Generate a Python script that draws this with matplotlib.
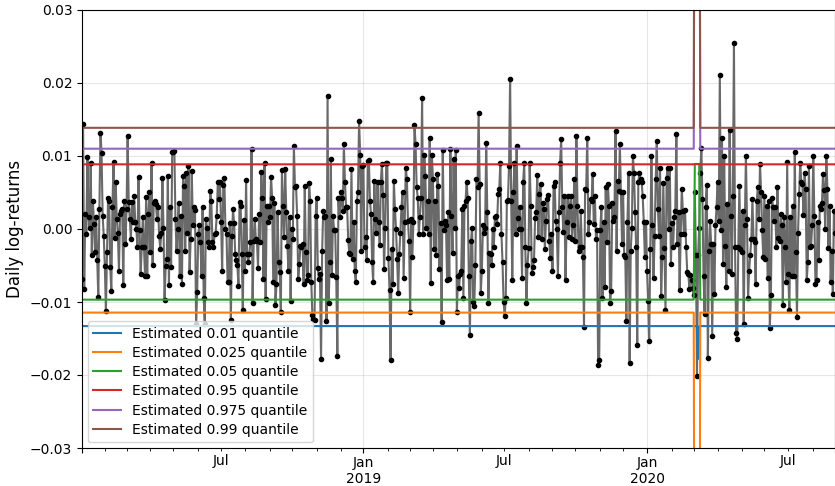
import numpy as np
import pandas as pd
import matplotlib
matplotlib.use("Agg")
from matplotlib import pyplot as plt

# daily log-returns, in units of 1e-3, one list per ~quarter
ret_2018q1 = [-6.8, 14.4, -8.2, 2.0, -0.7, 9.9, 1.6, 0.2, 9.1, -3.5,
              3.9, 0.7, -3.2, 1.6, -4.2, -9.3, 2.7, 13.2, 10.4, 1.8,
              -0.9, -5.1, -11.2, -3.1, 4.3, 3.9, -5.2, -8.5, 3.0, 9.2,
              -1.3, 6.4, 1.4, -0.5, -5.8, 2.0, 2.5, 2.7, -7.7, 3.9,
              -2.0, 2.7, 12.7, 3.7, 1.4, -1.4, 3.7, 0.9, 4.5, 1.0,
              0.0, -2.4, 7.1, -0.2, -6.1, -2.5, 1.7, -2.4, -6.4, 4.4,
              -6.5, 2.0, 5.1, -3.2]
ret_2018q2 = [9.1, -5.0, 3.6, 3.9, 3.4, 1.4, 3.0, -0.9, -2.7, -0.5,
              7.0, 0.2, -9.7, -5.1, -4.1, 7.3, -7.7, 3.0, -5.2, 10.5,
              10.5, 10.7, 1.4, -3.0, 0.0, 3.6, -6.4, 1.8, -7.5, 7.3,
              5.9, -3.0, 7.7, -0.5, 8.6, -5.9, -1.4, 8.0, 0.5, 3.0,
              2.6, -13.0, -8.6, -0.7, 0.5, -1.8, -6.4, 3.0, -9.5, -13.0,
              1.4, 0.2, -1.8, -2.5, 5.2, 3.9, -1.8, -2.5, -0.7, -0.5,
              1.8, 6.4, 4.1]
ret_2018q3 = [6.4, 0.9, -5.7, 6.0, 7.0, 0.0, -0.7, -7.3, -7.2, 0.8,
              -12.5, -1.0, 2.7, 0.8, -3.4, -4.3, -5.0, -7.8, 3.7, 3.1,
              -3.4, -11.1, 1.3, -5.8, 6.7, -3.4, -4.5, -3.4, -1.8, 10.9,
              -10.1, -1.7, 1.4, -1.4, -1.6, -5.3, 2.0, -1.8, 7.8, 4.2,
              -6.8, 9.0, -9.6, 3.1, 1.0, 3.2, 1.6, 7.1, 4.2, -7.2,
              3.6, -10.4, -7.6, 2.3, -4.5, -5.9, -11.4, 8.1, 3.2, -1.1,
              8.2, 2.3, -2.3]
ret_2018q4 = [-5.7, 1.6, -9.8, 0.0, -1.4, 11.4, 5.7, 5.9, 1.8, -6.8,
              -4.8, -2.3, -2.5, -2.0, -7.5, 5.9, -3.2, -7.0, -6.3, 6.3,
              3.9, -7.2, -11.8, -12.3, -12.5, 1.8, 4.3, -5.4, -6.8, -6.1,
              -17.8, -3.0, 2.5, 1.6, 1.8, -12.6, 18.2, -10.2, -4.5, 9.6,
              -6.3, 1.8, -0.2, -0.1, -6.6, -17.4, 4.3, 1.6, 5.0, 4.2,
              2.5, 11.6, 6.5, 3.0, 3.0, -1.5, -3.3, -3.4, 8.2, -4.1,
              0.9, -5.7, -7.3, 3.9]
ret_2019q1 = [5.0, 14.8, 10.2, -3.0, 8.6, 8.7, -2.5, -1.1, -4.2, 9.3,
              9.5, 3.9, 2.1, -4.5, -7.3, 6.6, 1.4, -0.5, 6.5, 1.0,
              -2.2, 6.5, 8.9, 4.6, -5.5, 0.2, 9.0, 9.1, -4.0, -8.4,
              -18.0, -2.8, -7.5, 6.6, 2.8, 0.0, -4.1, -8.7, -3.4, -0.5,
              3.0, 5.0, -6.7, 0.9, 8.4, 6.8, 1.1, -1.6, -11.4, 1.4,
              -3.9, 1.0, 14.3, 11.6, 5.7, 4.3, -0.7, 1.7, 4.3, 18.0,
              -0.7, 10.2, 7.3]
ret_2019q2 = [0.2, 3.9, -0.7, 12.5, -7.4, 10.1, 6.8, -2.8, 3.9, -3.6,
              7.5, 5.9, -5.5, 0.8, -12.7, 10.8, -0.2, 1.1, 0.5, -7.0,
              2.3, -6.8, 10.9, 1.8, -3.3, 9.6, 0.2, 10.8, -11.4, -6.5,
              -8.1, -6.1, -5.7, 2.7, -9.5, 3.2, 3.9, 6.4, 4.2, -6.4,
              -14.5, -1.6, 0.2, -10.0, -10.5, -5.0, 6.9, 5.7, 15.9, 6.1,
              -8.7, -5.7, 0.5, -0.5, 0.2, 11.8, 2.3, -10.2, -3.3, -3.4,
              -5.0, 0.0, -2.5, 1.6]
ret_2019q3 = [1.8, 0.7, 4.8, 5.5, 9.1, -0.7, -4.5, -10.0, -11.9, -9.5,
              3.9, 4.0, 8.6, 20.6, 3.9, -7.0, 5.0, 9.1, -0.7, 11.4,
              1.5, 0.0, 3.0, 0.0, -6.7, 6.4, 9.1, -2.5, -10.2, -5.0,
              -2.6, 9.0, 3.2, -6.0, -5.2, -4.2, 1.5, 2.3, 7.4, -1.1,
              4.8, 6.1, -1.4, 3.6, 2.7, -2.7, 1.1, 4.1, 4.7, -1.6,
              -4.0, -0.7, -5.8, 5.9, 6.4, 1.1, 0.0, -6.4, 2.3, 9.1,
              12.3, 3.0, -0.4, 4.5]
ret_2019q4 = [-7.0, 0.9, 4.5, -1.1, 3.2, 4.5, -1.4, 0.5, 6.8, -1.6,
              12.8, 3.2, -3.0, -2.5, 2.4, -2.5, -3.9, -13.4, 5.5, 5.4,
              12.5, -0.7, 1.0, 4.1, 3.9, 7.5, 0.7, 4.5, -1.4, -0.2,
              -18.6, -18.0, -0.2, 3.0, -9.5, 0.9, -8.0, 5.7, -1.8, 6.1,
              3.2, -10.1, -8.5, 3.5, 1.1, 1.6, 13.4, -3.0, 6.6, 5.2,
              11.6, 5.0, -2.0, 5.0, -3.6, -3.9, -12.6, 0.9, 7.7, -18.4,
              -3.0, 0.2, 10.0, 7.7]
ret_2020q1 = [2.3, -2.5, -15.9, 6.5, 7.7, 6.8, 6.5, 4.5, 1.0, -3.9,
              1.0, -5.7, -9.8, -15.4, -2.7, 10.0, 0.5, -6.7, -0.9, 6.8,
              12.0, 2.8, -0.9, 8.4, -9.2, -3.9, 6.3, -2.6, -11.1, 7.0,
              8.4, 0.0, 8.4, -4.8, 0.8, -2.5, 1.6, 2.5, 13.0, -2.0,
              2.3, -8.3, -0.7, 5.5, 2.5, -0.7, 2.6, -2.4, -5.9, -6.1,
              -8.2, -6.3, -7.0, -8.1, -9.0, 5.1, -3.6, -20.2, -3.6, 0.2,
              7.7, 11.1, 4.1, -6.4]
ret_2020q2 = [-11.6, 3.0, 6.0, -17.7, -3.0, 1.1, -2.0, -14.6, -2.0, -8.9,
              0.5, 3.0, 6.5, 1.1, 21.1, -0.2, 12.5, -4.8, 10.0, -2.3,
              -8.0, 3.4, -5.7, 13.6, 1.8, -6.2, 4.5, 25.5, -2.5, -14.3,
              -15.0, -2.5, 5.9, -2.7, -3.2, 2.5, -13.0, 0.5, 10.0, 1.4,
              -9.5, -5.7, -3.6, -1.4, 4.1, -1.4, -1.8, -7.6, 3.9, 5.7,
              1.4, 8.9, 5.0, -0.2, -3.9, 4.5, -4.1, 3.2, -6.7, 3.9,
              -13.6, -9.1, 4.3, 3.0]
ret_2020q3 = [1.1, 3.0, -2.5, 5.7, -1.3, -1.6, 2.0, 0.5, -10.4, 1.6,
              -2.5, -7.3, 9.2, -6.1, -11.1, 1.6, -6.4, 3.2, -6.4, 10.5,
              -3.2, -12.0, -0.5, 4.8, 9.1, 6.4, 6.1, 1.9, 7.7, 5.5,
              -7.0, -4.5, 8.6, -2.5, -2.3, 0.5, 10.0, 1.8, -7.5, -7.0,
              0.9, -4.3, 3.1, 2.7, 3.6, 7.6, 5.4, 0.0, 10.0, 5.5,
              -2.6, 3.2, -7.2, -3.0, -8.9, 2.5, -0.5]

quantile_levels = [0.01, 0.025, 0.05, 0.95, 0.975, 0.99]
quantile_values = [-0.01330, -0.01145, -0.00968, 0.00886, 0.01100, 0.01386]

# the estimates break down for a few days in early March 2020
blowup_dates = ["2020-03-03", "2020-03-04", "2020-03-05", "2020-03-06", "2020-03-09"]
blowup_q01 = [-0.0133, -0.0133, -0.0133, -0.0178, -0.0133]
blowup_q025 = [-0.08, -0.08, -0.08, -0.08, -0.08]
blowup_q05 = [0.0089, 0.0089, 0.0089, 0.0089, 0.0089]
blowup_q95 = [0.0089, 0.0089, 0.0089, 0.0089, 0.0089]
blowup_q975 = [0.08, 0.08, 0.08, 0.08, 0.08]
blowup_q99 = [0.08, 0.08, 0.08, 0.08, 0.08]


milli = (ret_2018q1 + ret_2018q2 + ret_2018q3 + ret_2018q4 + ret_2019q1 + ret_2019q2
         + ret_2019q3 + ret_2019q4 + ret_2020q1 + ret_2020q2 + ret_2020q3)
dates = pd.bdate_range("2018-01-03", periods=len(milli))
returns = pd.Series(np.array(milli) / 1000, index=dates)

quantiles = pd.DataFrame({lev: val for lev, val in zip(quantile_levels, quantile_values)}, index=dates)
blowups = [blowup_q01, blowup_q025, blowup_q05, blowup_q95, blowup_q975, blowup_q99]
for lev, vals in zip(quantile_levels, blowups):
    quantiles.loc[pd.to_datetime(blowup_dates), lev] = vals

fig = plt.figure(figsize=(8.35, 4.86), dpi=100)
ax = fig.add_axes([82 / 835, 38 / 486, 753 / 835, 438 / 486])

returns.plot(ax=ax, color="dimgray", lw=1.5, marker="o", markersize=3,
             markerfacecolor="k", markeredgecolor="k")
handles = []
for i, lev in enumerate(quantile_levels):
    quantiles[lev].plot(ax=ax, color="C%d" % i, lw=1.5)
    handles.append(ax.get_lines()[-1])

labels = ["Estimated %s quantile" % lev for lev in quantile_levels]
ax.legend(handles, labels, loc="lower left", fontsize=10, labelspacing=0.38,
          borderaxespad=0.4)

ax.set_ylim(-0.03, 0.03)
ax.set_ylabel("Daily log-returns", fontsize=12)
ax.set_xlabel("")
ax.tick_params(axis="x", which="both", pad=2)
ax.grid(True, alpha=0.3)

fig.savefig("out.png", dpi=100)
